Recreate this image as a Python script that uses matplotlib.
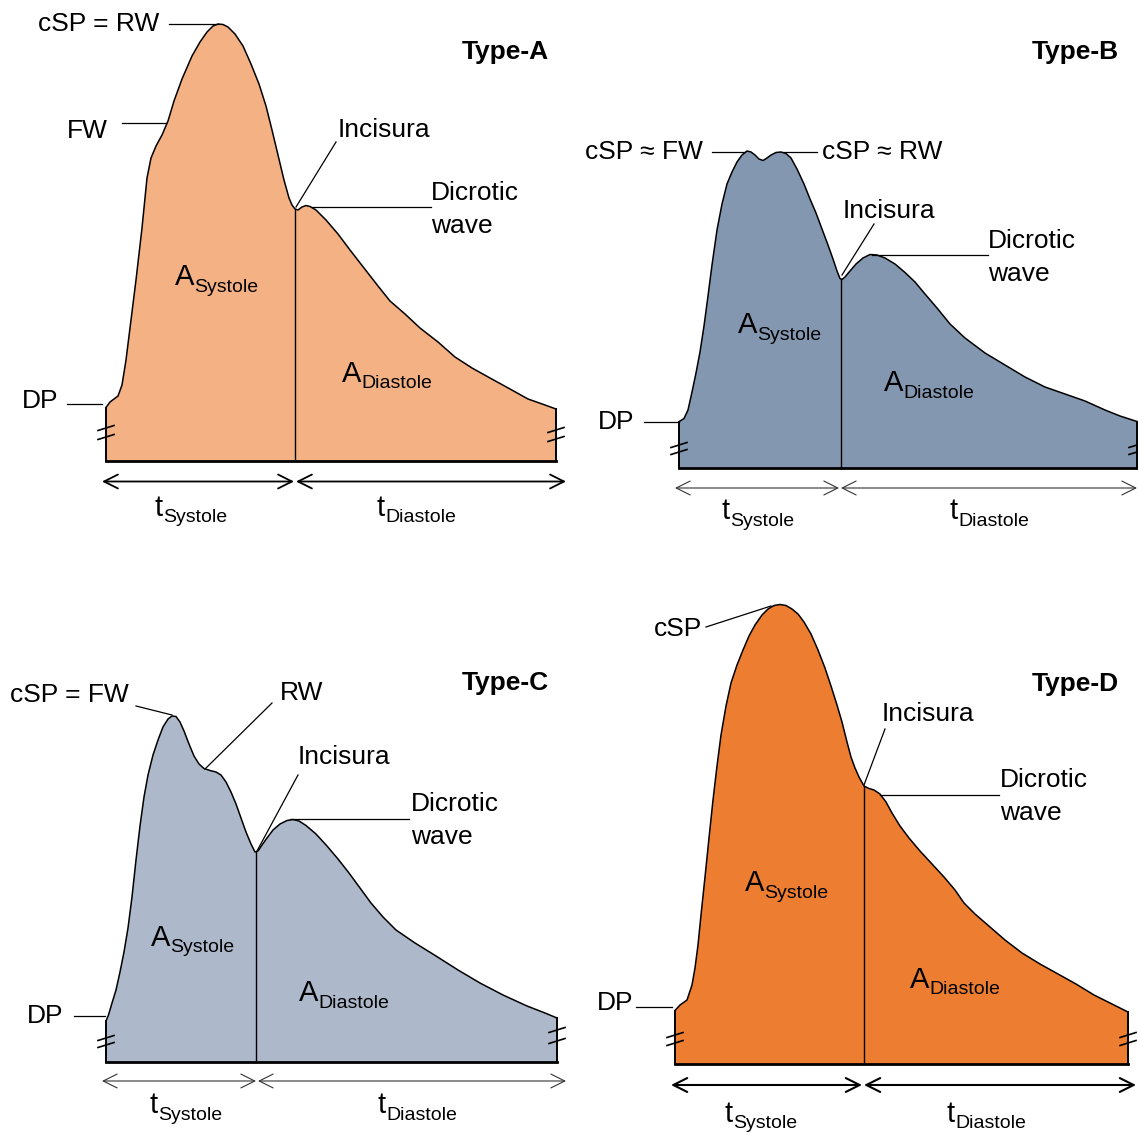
import numpy as np
import matplotlib.pyplot as plt

plt.rcParams['font.family'] = ['Liberation Sans', 'DejaVu Sans']

# pulse waveforms (pixel units, y grows downwards)
a_x = [106, 110, 118, 122, 126, 131, 136, 142, 147, 151, 156, 162, 168, 174, 182, 192, 200, 207, 213,
       218, 223, 228, 235, 243, 251, 259, 266, 272, 278, 284, 289, 292, 295, 298, 302, 306, 310, 316,
       326, 338, 350, 364, 378, 390, 405, 420, 438, 455, 472, 490, 510, 528, 545, 556]
a_y = [407.5, 402, 396, 385, 360, 320, 280, 228, 178, 158, 146, 135, 121, 101, 79, 56, 42, 32, 26,
       24, 24.5, 27, 34, 46, 64, 84, 106, 130, 155, 180, 198, 205, 209, 210, 207, 205.5, 206.5, 210,
       220, 234, 250, 268, 286, 301, 314, 328, 342, 357, 368, 378, 389, 399, 405, 409]

b_x = [679, 684, 688, 692, 696, 700, 704, 708, 712, 717, 722, 727, 732, 737, 742, 747, 751, 755, 759,
       763, 767, 771, 776, 781, 786, 791, 797, 804, 810, 816, 822, 828, 833, 837, 840, 842, 845, 850,
       856, 863, 870, 877, 885, 895, 905, 915, 925, 937, 950, 965, 985, 1005, 1025, 1045, 1065, 1085,
       1105, 1120, 1137]
b_y = [421.7, 418.5, 410, 392, 373, 352, 326, 296, 265, 230, 204, 184, 172, 162, 155, 151, 152, 155,
       159, 160.5, 158, 155, 152.5, 152, 153.5, 158, 169, 184, 199, 213, 229, 245, 259, 271, 278.5,
       279.5, 277, 271, 264, 258, 254.5, 255, 258, 264, 272.5, 282, 294, 308, 324, 338, 353, 365, 377,
       387, 394, 401, 410, 416, 421.5]

c_x = [106, 108.5, 112, 116, 120, 124, 128, 132, 136, 140, 144, 148, 153, 158, 163, 168, 172, 176, 180,
       184, 189, 194, 199, 204, 210, 216, 221, 226, 231, 236, 241, 246, 251, 255, 258, 262, 267, 273,
       280, 287, 293, 299, 306, 316, 327, 338, 349, 360, 371, 383, 396, 415, 436, 458, 480, 503, 527,
       545, 557]
c_y = [1021, 1015, 1003, 990, 972, 952, 928, 897, 860, 826, 797, 775, 755, 740, 727, 719, 716, 716.5,
       722, 731, 744, 756, 764, 768.5, 770.5, 772, 775, 782, 792, 804, 818, 832, 844, 852, 851, 845,
       838, 830, 824, 820.5, 819.5, 821, 825.5, 834, 846, 859, 873, 888, 903, 917, 930, 943, 956, 970,
       983, 995, 1006, 1013, 1018]

d_x = [675, 680, 687, 692, 695, 698, 701, 705, 709, 713, 717, 721, 726, 731, 737, 743, 749, 755, 762,
       768, 774, 780, 786, 792, 798, 804, 811, 818, 825, 831, 837, 842, 847, 851, 855, 859, 864, 869,
       874, 880, 886, 892, 900, 909, 920, 932, 944, 955, 964, 975, 990, 1005, 1022, 1040, 1058, 1076,
       1094, 1112, 1128]
d_y = [1010.5, 1005, 1000, 985, 968, 945, 915, 877, 838, 800, 766, 735, 706, 683, 665, 650, 636, 625,
       615, 609, 605.5, 604.5, 605.5, 609, 614, 622, 634, 650, 668, 686, 705, 722, 742, 757, 768, 777,
       786, 788.5, 790, 794, 802, 813, 826, 838, 851, 864, 877, 890, 903, 914, 927, 940, 953, 964, 974,
       984, 995, 1004, 1012]

# incisura position (systole / diastole split) and baselines
splits = [295, 841, 256, 864]
bases = [461, 468, 1062, 1064]
colors = ['#F4B183', '#8497B0', '#ADB9CA', '#ED7D31']
types = ['Type-A', 'Type-B', 'Type-C', 'Type-D']

fig = plt.figure(figsize=(11.38, 11.33), dpi=100)
ax = fig.add_axes([0, 0, 1, 1])
ax.set_xlim(0, 1138)
ax.set_ylim(1133, 0)
ax.axis('off')

FS = 19
FS_MAIN = 21
FS_SUB = 14


def draw_wave(xs, ys, base, split, color):
    xs = np.array(xs, dtype=float)
    ys = np.array(ys, dtype=float)
    ax.fill_between(xs, ys, base, facecolor=color, edgecolor='none', zorder=1)
    ax.plot(xs, ys, color='black', lw=1.1, solid_joinstyle='round', zorder=3)
    ax.plot([xs[0], xs[0]], [ys[0], base], color='black', lw=1.4, zorder=3)
    ax.plot([xs[-1], xs[-1]], [ys[-1], base], color='black', lw=1.4, zorder=3)
    ax.plot([xs[0], xs[-1]], [base, base], color='black', lw=2.0, zorder=3)
    ys_split = np.interp(split, xs, ys)
    ax.plot([split, split], [ys_split, base], color='black', lw=1.0, zorder=3)


def breaks(x, y_list):
    for y in y_list:
        ax.plot([x - 8, x + 8], [y + 2.5, y - 2.5], color='black', lw=1.2, zorder=4)


def arrows(x0, xm, x1, y, lw, col):
    for a, b in [(x0, xm), (xm + 2, x1)]:
        ax.annotate('', xy=(b, y), xytext=(a, y),
                    arrowprops=dict(arrowstyle='<->,head_length=0.5,head_width=0.25',
                                    lw=lw, color=col, shrinkA=0, shrinkB=0,
                                    mutation_scale=20))


def leader(x0, y0, x1, y1):
    ax.plot([x0, x1], [y0, y1], color='black', lw=0.9, zorder=4)


def txt(x, y, s, va='center', **kw):
    ax.text(x, y, s, fontsize=FS, ha='left', va=va, **kw)


def two_lines(x, y, first, second):
    txt(x, y, first)
    txt(x, y + 33, second)


def sub(x, y, main, low):
    # main letter with a subscript word, y is the baseline of the main letter
    shift = 19 if main == 'A' else 8
    ax.text(x, y, main, fontsize=FS_MAIN, ha='left', va='baseline')
    ax.text(x + shift, y + 6.5, low, fontsize=FS_SUB, ha='left', va='baseline')


# ---- Type A ----
draw_wave(a_x, a_y, bases[0], splits[0], colors[0])
breaks(106, [428, 437])
breaks(556, [430, 439])
arrows(102, 294, 566, 481.5, 1.3, 'black')
txt(38, 24, 'cSP = RW')
leader(169, 24, 218, 24)
txt(67, 131, 'FW')
leader(122, 122.5, 166, 122.5)
txt(338, 130, 'Incisura')
leader(336, 142, 296, 207)
two_lines(431, 193, 'Dicrotic', 'wave')
leader(312, 207, 431, 207)
txt(22, 401, 'DP')
leader(67, 404, 102, 404)
sub(175, 285, 'A', 'Systole')
sub(342, 382, 'A', 'Diastole')
sub(155, 516, 't', 'Systole')
sub(377, 516, 't', 'Diastole')
txt(462, 52, types[0], fontweight='bold')

# ---- Type B ----
draw_wave(b_x, b_y, bases[1], splits[1], colors[1])
breaks(679, [445, 452])
breaks(1137, [445, 452])
arrows(675, 839, 1137, 488, 0.8, '#333333')
txt(585, 152, 'cSP \u2248 FW')
leader(712, 152, 745, 152)
txt(822, 152, 'cSP \u2248 RW')
leader(783, 152, 817, 152)
txt(843, 211, 'Incisura')
leader(874, 224, 842, 275)
two_lines(988, 241, 'Dicrotic', 'wave')
leader(872, 254.5, 988, 254.5)
txt(598, 422, 'DP')
leader(644, 422, 679, 422)
sub(738, 333, 'A', 'Systole')
sub(884, 391, 'A', 'Diastole')
sub(722, 519, 't', 'Systole')
sub(950, 519, 't', 'Diastole')
txt(1032, 52, types[1], fontweight='bold')

# ---- Type C ----
draw_wave(c_x, c_y, bases[2], splits[2], colors[2])
breaks(106, [1038, 1045])
breaks(557, [1030, 1041])
arrows(102, 256, 566, 1081, 0.8, '#333333')
txt(10, 695, 'cSP = FW')
leader(136, 706, 172, 715)
txt(280, 693, 'RW')
leader(272, 703, 205, 769)
txt(298, 757, 'Incisura')
leader(298, 775, 257, 851)
two_lines(411, 804, 'Dicrotic', 'wave')
leader(290, 819, 409, 819)
txt(27, 1016, 'DP')
leader(74, 1015.5, 105, 1015.5)
sub(151, 946, 'A', 'Systole')
sub(299, 1001, 'A', 'Diastole')
sub(150, 1113, 't', 'Systole')
sub(378, 1113, 't', 'Diastole')
txt(462, 683, types[2], fontweight='bold')

# ---- Type D ----
draw_wave(d_x, d_y, bases[3], splits[3], colors[3])
breaks(675, [1035, 1043])
breaks(1128, [1035, 1043])
arrows(671, 862, 1136, 1085, 1.5, 'black')
txt(654, 629, 'cSP')
leader(706, 627, 771, 606)
txt(882, 714, 'Incisura')
leader(885, 729, 864, 785)
two_lines(1000, 780, 'Dicrotic', 'wave')
leader(880, 794.5, 999, 794.5)
txt(597, 1003, 'DP')
leader(636, 1007, 672, 1007)
sub(745, 891, 'A', 'Systole')
sub(910, 988, 'A', 'Diastole')
sub(725, 1122, 't', 'Systole')
sub(947, 1122, 't', 'Diastole')
txt(1032, 684, types[3], fontweight='bold')

fig.savefig('out.png', dpi=100)
